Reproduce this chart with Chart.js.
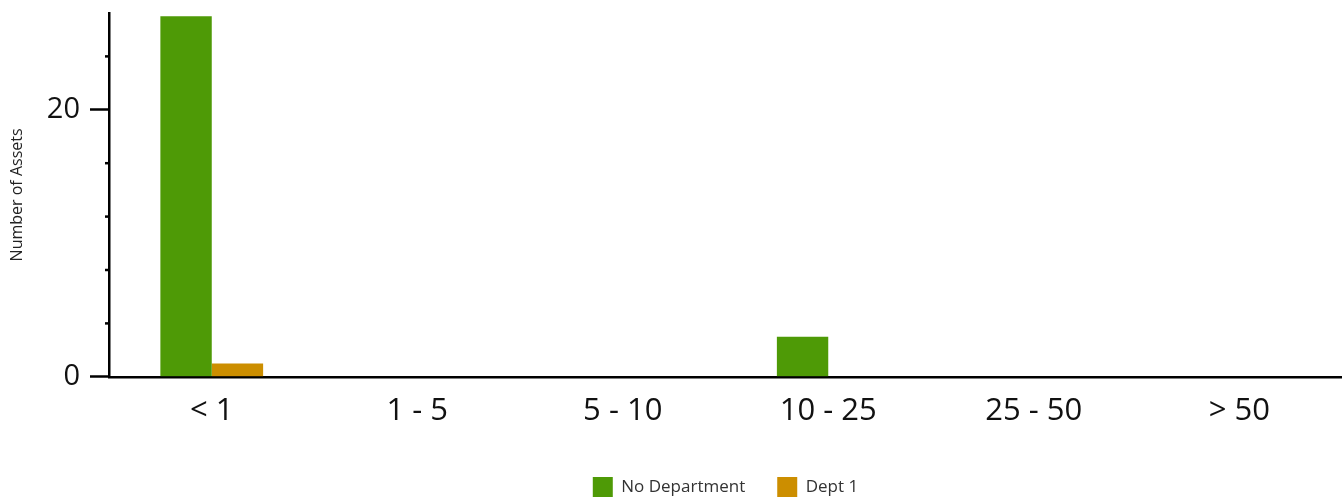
<!DOCTYPE html>
<html>
<head>
<meta charset="utf-8">
<script src="https://cdn.jsdelivr.net/npm/chart.js@4"></script>
<style>
  html, body { margin: 0; padding: 0; background: #fff; }
  #wrap { width: 1342px; height: 498px; }
</style>
</head>
<body>
<div id="wrap"><canvas id="myChart"></canvas></div>
<script>
const categories = ['< 1', '1 - 5', '5 - 10', '10 - 25', '25 - 50', '> 50']
const noDepartment = [27, 0, 0, 3, 0, 0]
const dept1 = [1, 0, 0, 0, 0, 0]
const yMax = 27.25
const minorStep = 4

// small ticks between the labelled ones on the y axis
const minorTicks = {
    id: 'minorTicks',
    afterDraw(chart) {
        const y = chart.scales.y
        const ctx = chart.ctx
        ctx.save()
        ctx.strokeStyle = '#000'
        ctx.lineWidth = 2.5
        for (let v = minorStep; v < yMax; v += minorStep) {
            if (v % 20 === 0) continue
            const py = y.getPixelForValue(v)
            ctx.beginPath()
            ctx.moveTo(y.right - 4, py)
            ctx.lineTo(y.right, py)
            ctx.stroke()
        }
        ctx.restore()
    }
}

const data = {
    labels: categories,
    datasets: [{
        label: 'No Department',
        data: noDepartment,
        backgroundColor: '#4e9a06',
        categoryPercentage: 0.5,
        barPercentage: 1
    }, {
        label: 'Dept 1',
        data: dept1,
        backgroundColor: '#cc8e00',
        categoryPercentage: 0.5,
        barPercentage: 1
    }]
}

const config = {
    type: 'bar',
    data: data,
    plugins: [minorTicks],
    options: {
        responsive: true,
        maintainAspectRatio: false,
        animation: false,
        layout: { padding: { top: 13, right: 0, left: 0, bottom: -9 } },
        plugins: {
            legend: {
                position: 'bottom',
                fullSize: false,
                labels: {
                    boxWidth: 20,
                    boxHeight: 20,
                    padding: 32,
                    color: '#333',
                    font: { family: 'Open Sans', size: 17 }
                }
            },
            tooltip: { enabled: false }
        },
        scales: {
            x: {
                afterFit: scale => { scale.height -= 1 },
                grid: { display: false, drawTicks: false },
                border: { display: true, color: '#000', width: 2.5 },
                ticks: {
                    color: '#111',
                    padding: 16,
                    font: { family: 'Open Sans', size: 31 }
                }
            },
            y: {
                min: 0,
                max: yMax,
                afterFit: scale => {
                    scale.width = 109
                    scale.paddingTop = 0
                },
                title: {
                    display: true,
                    text: 'Number of Assets',
                    color: '#222',
                    font: { family: 'Open Sans', size: 16 },
                    padding: { top: 8, bottom: 0 }
                },
                grid: {
                    drawOnChartArea: false,
                    tickLength: 19,
                    tickWidth: 2.5,
                    tickColor: '#000'
                },
                border: { display: true, color: '#000', width: 2.5 },
                ticks: {
                    stepSize: 20,
                    includeBounds: false,
                    padding: 10,
                    color: '#111',
                    font: { family: 'Open Sans', size: 29 }
                }
            }
        }
    }
}

let myChart = new Chart(document.getElementById('myChart'), config)
</script>
</body>
</html>
